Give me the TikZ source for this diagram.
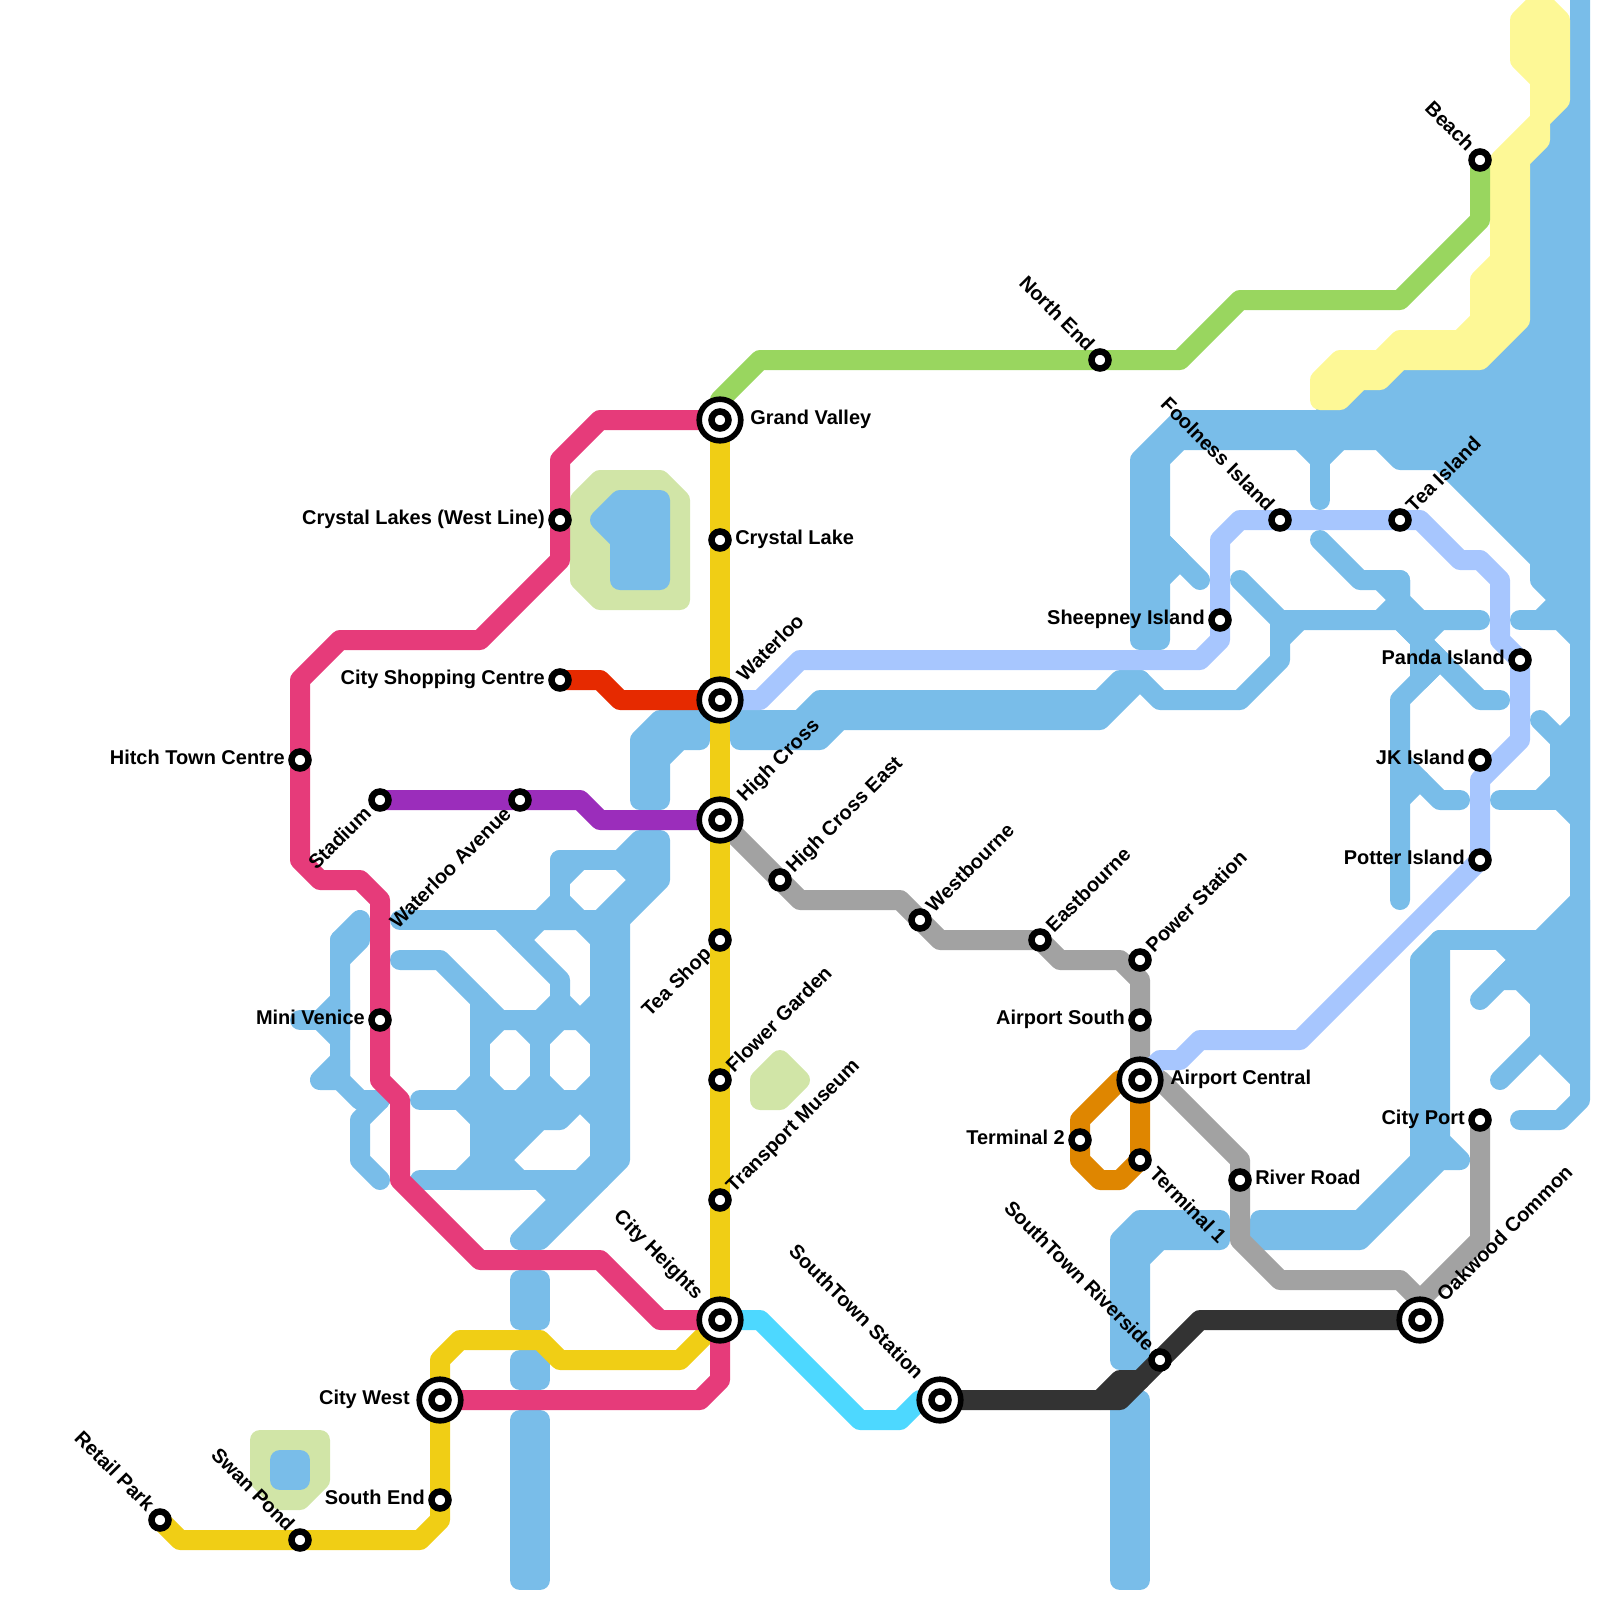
\documentclass[tikz,border=0pt]{standalone}
\usepackage{fontspec}
\setmainfont{Liberation Sans}
\definecolor{wcol}{HTML}{79BDE9}
\definecolor{parkcol}{HTML}{D1E5A7}
\definecolor{sandcol}{HTML}{FDF896}
\definecolor{pinkcol}{HTML}{E63B7A}
\definecolor{goldcol}{HTML}{F0CE15}
\definecolor{greencol}{HTML}{99D65F}
\definecolor{perico}{HTML}{A7C6FE}
\definecolor{purpcol}{HTML}{9B2DBB}
\definecolor{redcol}{HTML}{E62A00}
\definecolor{greycol}{HTML}{A2A2A2}
\definecolor{orangecol}{HTML}{DF8600}
\definecolor{darkcol}{HTML}{333333}
\definecolor{cyancol}{HTML}{4DD8FF}
\pgfdeclarelayer{bg}
\pgfsetlayers{bg,main}
\tikzset{
  base/.style={line width=.5cm,line join=round,line cap=round},
  wl/.style={base,draw=wcol},
  wp/.style={base,draw=wcol,fill=wcol},
  pk/.style={base,draw=parkcol,fill=parkcol},
  sand/.style={base,draw=sandcol,fill=sandcol},
  rail/.style={base,draw=#1},
  stn/.style={circle,draw=black,fill=white,inner sep=0pt,minimum size=.425cm,line width=.1625cm},
  ic/.style={circle,draw=black,fill=white,inner sep=0pt,minimum size=1.04cm,line width=.14cm,
    path picture={\draw[black,fill=white,line width=.1625cm] (path picture bounding box.center) circle (.2125cm);}},
  lbl/.style n args={4}{inner sep=0pt,font=\fontsize{14.2}{17}\selectfont\bfseries,text=black,
    xshift=#3*0.025cm,yshift=#4*0.025cm,rotate=#1,anchor=#2},
  lE/.style={lbl={0}{base west}{15}{-4.3}},
  lW/.style={lbl={0}{base east}{-15}{-4.3}},
  lbE/.style={lbl={0}{base west}{30}{-4.3}},
  lbW/.style={lbl={0}{base east}{-30}{-4.3}},
  lNE/.style={lbl={45}{base west}{14}{6.5}},
  lbNE/.style={lbl={45}{base west}{25}{17.5}},
  lSW/.style={lbl={45}{base east}{-7.5}{-15}},
  lNW/.style={lbl={-45}{base east}{-13.5}{7.5}},
  lbNW/.style={lbl={-45}{base east}{-24.5}{19.5}},
  lSE/.style={lbl={-45}{base west}{8.1}{-15}},
}
\begin{document}
\begin{tikzpicture}[x=.5cm,y=-.5cm]
\useasboundingbox (0,0) rectangle (80,80);
% stations
\node[ic] (gv) at (36,21) {};
\node[stn] (cl) at (36,27) {};
\node[ic] (wa) at (36,35) {};
\node[ic] (hc) at (36,41) {};
\node[stn] (hce) at (39,44) {};
\node[stn] (ts) at (36,47) {};
\node[stn] (fg) at (36,54) {};
\node[stn] (tm) at (36,60) {};
\node[ic] (ch) at (36,66) {};
\node[ic] (ss) at (47,70) {};
\node[ic] (cw) at (22,70) {};
\node[stn] (se) at (22,75) {};
\node[stn] (sp) at (15,77) {};
\node[stn] (rp) at (8,76) {};
\node[stn] (mv) at (19,51) {};
\node[stn] (ht) at (15,38) {};
\node[stn] (sd) at (19,40) {};
\node[stn] (wv) at (26,40) {};
\node[stn] (cw2) at (28,26) {};
\node[stn] (cs) at (28,34) {};
\node[stn] (ne) at (55,18) {};
\node[stn] (be) at (74,8) {};
\node[stn] (fi) at (64,26) {};
\node[stn] (ti) at (70,26) {};
\node[stn] (si) at (61,31) {};
\node[stn] (pi) at (76,33) {};
\node[stn] (jk) at (74,38) {};
\node[stn] (po) at (74,43) {};
\node[stn] (wb) at (46,46) {};
\node[stn] (eb) at (52,47) {};
\node[stn] (ps) at (57,48) {};
\node[stn] (as) at (57,51) {};
\node[ic] (ac) at (57,54) {};
\node[stn] (t2) at (54,57) {};
\node[stn] (t1) at (57,58) {};
\node[stn] (rr) at (62,59) {};
\node[stn] (cp) at (74,56) {};
\node[ic] (oc) at (71,66) {};
\node[stn] (sr) at (58,68) {};
% labels
\node[lbE] (tgv) at (gv.center) {Grand Valley};
\node[lE] (tcl) at (cl.center) {Crystal Lake};
\node[lbNE] (twa) at (wa.center) {Waterloo};
\node[lbNE] (thc) at (hc.center) {High Cross};
\node[lNE] (thce) at (hce.center) {High Cross East};
\node[lSW] (tts) at (ts.center) {Tea Shop};
\node[lNE] (tfg) at (fg.center) {Flower Garden};
\node[lNE] (ttm) at (tm.center) {Transport Museum};
\node[lbNW] (tch) at (ch.center) {City Heights};
\node[lbNW] (tss) at (ss.center) {SouthTown Station};
\node[lbW] (tcw) at (cw.center) {City West};
\node[lW] (tse) at (se.center) {South End};
\node[lNW] (tsp) at (sp.center) {Swan Pond};
\node[lNW] (trp) at (rp.center) {Retail Park};
\node[lW] (tmv) at (mv.center) {Mini Venice};
\node[lW] (tht) at (ht.center) {Hitch Town Centre};
\node[lSW] (tsd) at (sd.center) {Stadium};
\node[lSW] (twv) at (wv.center) {Waterloo Avenue};
\node[lW] (tcw2) at (cw2.center) {Crystal Lakes (West Line)};
\node[lW] (tcs) at (cs.center) {City Shopping Centre};
\node[lNW] (tne) at (ne.center) {North End};
\node[lNW] (tbe) at (be.center) {Beach};
\node[lNW] (tfi) at (fi.center) {Foolness Island};
\node[lNE] (tti) at (ti.center) {Tea Island};
\node[lW] (tsi) at (si.center) {Sheepney Island};
\node[lW] (tpi) at (pi.center) {Panda Island};
\node[lW] (tjk) at (jk.center) {JK Island};
\node[lW] (tpo) at (po.center) {Potter Island};
\node[lNE] (twb) at (wb.center) {Westbourne};
\node[lNE] (teb) at (eb.center) {Eastbourne};
\node[lNE] (tps) at (ps.center) {Power Station};
\node[lW] (tas) at (as.center) {Airport South};
\node[lbE] (tac) at (ac.center) {Airport Central};
\node[lW] (tt2) at (t2.center) {Terminal 2};
\node[lSE] (tt1) at (t1.center) {Terminal 1};
\node[lE] (trr) at (rr.center) {River Road};
\node[lW] (tcp) at (cp.center) {City Port};
\node[lbNE] (toc) at (oc.center) {Oakwood Common};
\node[lNW] (tsr) at (sr.center) {SouthTown Riverside};

\begin{pgfonlayer}{bg}
\begin{scope}
\clip (0,0) rectangle (80,80);
% parks
\draw[pk] (29,25)--(30,24)--(33,24)--(34,25)--(34,30)--(30,30)--(29,29)--cycle;
\draw[pk] (38,54)--(39,53)--(40,54)--(39,55)--(38,55)--cycle;
\draw[pk] (13,72)--(16,72)--(16,74)--(15,75)--(14,75)--(13,74)--cycle;
% water: lakes and channels
\draw[wp] (30,26)--(31,25)--(33,25)--(33,29)--(31,29)--(31,27)--cycle;
\draw[wp] (14,73)--(15,73)--(15,74)--(14,74)--cycle;
\draw[wp] (26,64)--(27,64)--(27,66)--(26,66)--cycle;
\draw[wp] (26,68)--(27,68)--(27,69)--(26,69)--cycle;
\draw[wp] (26,71)--(27,71)--(27,79)--(26,79)--cycle;
\draw[wp] (56,70)--(57,70)--(57,79)--(56,79)--cycle;
\draw[wp] (56,62)--(57,61)--(61,61)--(61,62)--(58,62)--(57,63)--(57,68)--(56,68)--cycle;
\draw[wp] (63,61)--(68,61)--(71,58)--(71,48)--(72,47)--(72,57)--(73,58)--(72,58)--(68,62)--(63,62)--cycle;
% top sea
\draw[wp] (57,23)--(59,21)--(66,21)--(67,20)--(68,19)--(70,18)--(74,18)--(76,16)--(76,8)--(77,7)--(77,6)--(78,5)--(79,5)--(79,32)--(78,31)--(77,31)--(78,30)--(77,29)--(77,28)--(72,23)--(70,23)--(69,22)--(59,22)--(58,23)--(58,32)--(57,32)--cycle;
\draw[wp] (58,27)--(59,28)--(58,29)--cycle;
\draw[wl] (58,27)--(60,29);
\draw[wp] (65,22)--(67,22)--(66,23)--cycle;
\draw[wl] (66,22)--(66,25);
\draw[wl] (66,27)--(68,29)--(70,29)--(70,30)--(71,31);
\draw[wp] (69,29)--(70,29)--(70,30)--cycle;
\draw[wl] (69,31)--(70,30);
\draw[wl] (62,29)--(64,31)--(74,31);
\draw[wl] (64,31)--(64,33)--(62,35)--(58,35)--(57,34);
\draw[wl] (65,31)--(64,32);
\draw[wl] (70,31)--(74,35)--(75,35);
\draw[wp] (70,31)--(72,31)--(71,32)--cycle;
\draw[wp] (71,32)--(72,33)--(71,34)--cycle;
\draw[wl] (70,45)--(70,35)--(72,33);
\draw[wl] (70,38)--(72,40)--(73,40);
\draw[wl] (70,40)--(71,39);
\draw[wp] (37,36)--(40,36)--(41,35)--(55,35)--(56,34)--(57,34)--(55,36)--(42,36)--(41,37)--(37,37)--cycle;
\draw[wp] (32,37)--(33,36)--(35,36)--(35,37)--(34,37)--(33,38)--(33,40)--(32,40)--cycle;
% right edge
\draw[wl] (79,-1)--(79,55)--(78,56)--(76,56);
\draw[wp] (79,36)--(78,37)--(78,40)--(79,41)--cycle;
\draw[wl] (77,36)--(78,37);
\draw[wl] (75,40)--(78,40);
\draw[wl] (77,40)--(78,39);
\draw[wl] (76,31)--(78,31);
\draw[wp] (76,48)--(75,49)--(76,49)--(77,50)--(77,52)--(79,54)--(79,45)--(77,47)--(76,47)--cycle;
\draw[wl] (72,47)--(77,47);
\draw[wl] (75,47)--(76,48)--(74,50);
\draw[wl] (75,54)--(77,52);
% left network
\draw[wp] (31,43)--(32,42)--(33,42)--(33,44)--(31,46)--(30,46)--(32,44)--cycle;
\draw[wl] (28,45)--(28,43)--(31,43);
\draw[wp] (28,43)--(29,43)--(28,44)--cycle;
\draw[wp] (28,45)--(29,46)--(27,46)--cycle;
\draw[wp] (30,46)--(31,46)--(31,58)--(27,62)--(26,62)--(28,60)--(27,59)--(29,59)--(30,58)--cycle;
\draw[wl] (20,46)--(31,46);
\draw[wl] (20,48)--(22,48)--(25,51)--(30,51);
\draw[wl] (25,46)--(28,49)--(28,50)--(27,51);
\draw[wl] (26,47)--(27,46);
\draw[wp] (29,46)--(30,46)--(30,47)--cycle;
\draw[wl] (28,50)--(29,51)--(30,50);
\draw[wl] (24,50)--(24,58);
\draw[wl] (27,51)--(27,55);
\draw[wl] (21,55)--(30,55);
\draw[wl] (21,59)--(30,59);
\draw[wp] (24,52)--(25,51)--(24,51)--cycle;
\draw[wp] (26,51)--(28,51)--(27,52)--cycle;
\draw[wp] (29,51)--(30,52)--(30,51)--cycle;
\draw[wp] (24,54)--(25,55)--(23,55)--cycle;
\draw[wp] (26,55)--(28,55)--(27,54)--cycle;
\draw[wp] (29,55)--(30,54)--(30,56)--cycle;
\draw[wp] (24,55)--(29,55)--(28,56)--(27,56)--(25,58)--(26,59)--(23,59)--(24,58)--(24,56)--(23,55)--cycle;
% far left channels
\draw[wp] (17,47)--(18,46)--(18,47)--(17,48)--cycle;
\draw[wl] (17,47)--(17,54)--(18,55)--(19,55);
\draw[wl] (19,55)--(18,56)--(18,58)--(19,59);
\draw[wp] (16,54)--(17,53)--(17,54)--cycle;
\draw[wl] (15,51)--(16,51);
\draw[wp] (17,50)--(16,51)--(17,52)--cycle;
% sand
\draw[sand] (76,1)--(77,0)--(78,1)--(78,5)--(77,6)--(77,7)--(76,8)--(76,16)--(74,18)--(70,18)--(69,19)--(68,19)--(67,20)--(66,20)--(66,19)--(67,18)--(69,18)--(70,17)--(73,17)--(74,16)--(74,14)--(75,13)--(75,8)--(77,6)--(77,4)--(76,3)--cycle;
\end{scope}
% lines
\draw[rail=greycol] (hc.center)--(40,45)--(45,45)--(47,47)--(52,47)--(53,48)--(56,48)--(57,49)--(ac.center)--(58,54)--(62,58)--(62,62)--(64,64)--(70,64)--(71,65)--(oc.center);
\draw[rail=greycol] (oc.center)--(71,65)--(74,62)--(cp.center);
\draw[rail=darkcol] (ss.center)--(55,70)--(56,69)--(57,69)--(60,66)--(oc.center);
\draw[rail=darkcol] (55,70)--(56,70)--(57,69);
\draw[rail=cyancol] (ch.center)--(38,66)--(43,71)--(45,71)--(46,70)--(ss.center);
\draw[rail=greencol] (gv.center)--(36,20)--(38,18)--(59,18)--(62,15)--(70,15)--(74,11)--(be.center);
\draw[rail=perico] (wa.center)--(38,35)--(40,33)--(60,33)--(61,32)--(61,27)--(62,26)--(71,26)--(73,28)--(74,28)--(75,29)--(75,32)--(pi.center)--(76,37)--(74,39)--(po.center)--(65,52)--(60,52)--(59,53)--(58,53)--(ac.center);
\draw[rail=purpcol] (sd.center)--(29,40)--(30,41)--(hc.center);
\draw[rail=redcol] (cs.center)--(30,34)--(31,35)--(wa.center);
\draw[rail=orangecol] (ac.center)--(56,54)--(54,56)--(54,58)--(55,59)--(56,59)--(57,58)--cycle;
\draw[rail=goldcol] (gv.center)--(ch.center);
\draw[rail=goldcol] (ch.center)--(34,68)--(28,68)--(27,67)--(23,67)--(22,68)--(22,76)--(21,77)--(9,77)--(rp.center);
\draw[rail=pinkcol] (ch.center)--(33,66)--(30,63)--(24,63)--(20,59)--(20,55)--(19,54)--(19,45)--(18,44)--(16,44)--(15,43)--(15,34)--(17,32)--(24,32)--(28,28)--(28,23)--(30,21)--(gv.center);
\draw[rail=pinkcol] (ch.center)--(36,69)--(35,70)--(cw.center);
\end{pgfonlayer}
\end{tikzpicture}
\end{document}
